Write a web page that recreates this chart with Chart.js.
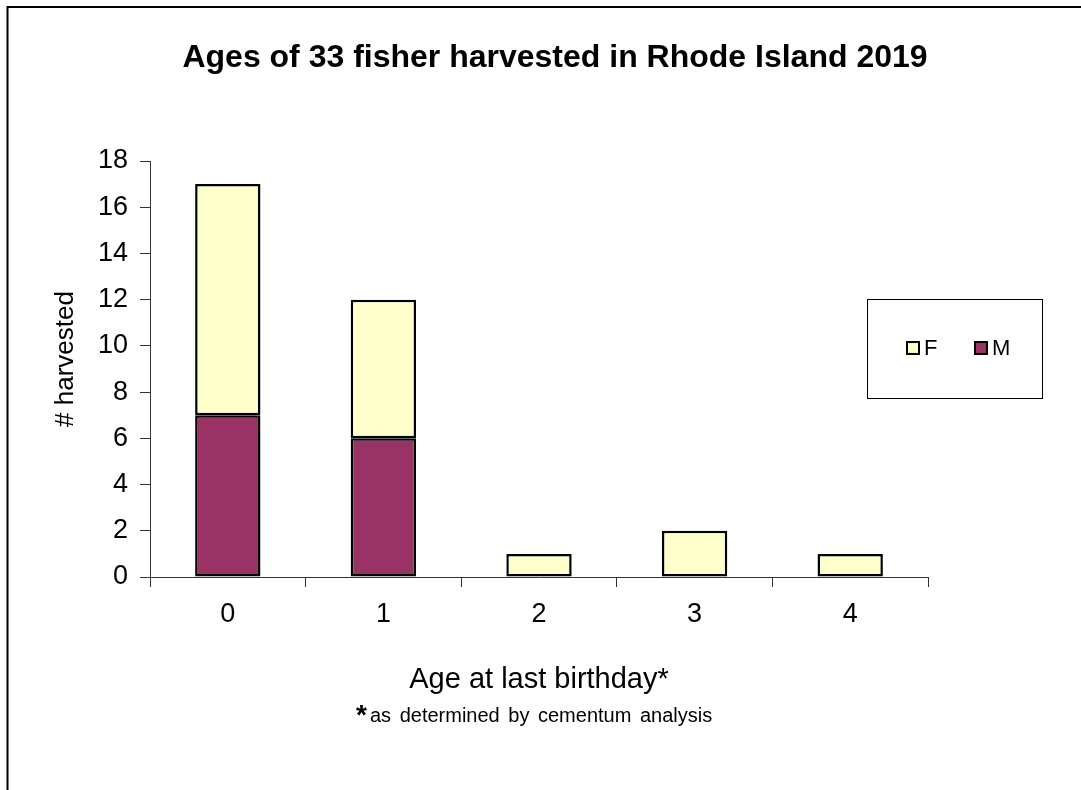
<!DOCTYPE html>
<html>
<head>
<meta charset="utf-8">
<title>Fisher ages</title>
<script src="https://cdn.jsdelivr.net/npm/chart.js@4.4.1/dist/chart.umd.min.js"></script>
<style>
  html, body { margin: 0; padding: 0; background: #fff; }
  canvas { display: block; }
</style>
</head>
<body>
<canvas id="ageChart" width="1081" height="790"></canvas>
<script>
// ages at last birthday and counts per sex
const ages = ['0', '1', '2', '3', '4'];
const males = [7, 6, 0, 0, 0];
const females = [10, 6, 1, 2, 1];
const yTicks = [0, 2, 4, 6, 8, 10, 12, 14, 16, 18];

const colors = {
    female: '#FFFFCC',
    male: '#993366',
    ink: '#000000'
};

const FONT = '"Liberation Sans", Arial, sans-serif';

// frame, titles, footnote and the boxed legend are painted by hand
const decorations = {
    id: 'decorations',
    beforeDraw(chart) {
        const ctx = chart.ctx;
        ctx.save();
        ctx.fillStyle = '#fff';
        ctx.fillRect(0, 0, chart.width, chart.height);
        ctx.restore();
    },
    afterDraw(chart) {
        const { ctx, chartArea } = chart;
        ctx.save();

        // outer frame (only top and left edges fall inside the page)
        ctx.strokeStyle = colors.ink;
        ctx.lineWidth = 2;
        ctx.beginPath();
        ctx.moveTo(7.5, chart.height);
        ctx.lineTo(7.5, 7);
        ctx.lineTo(chart.width, 7);
        ctx.stroke();

        ctx.fillStyle = colors.ink;
        ctx.textAlign = 'center';
        ctx.textBaseline = 'middle';

        ctx.font = 'bold 32px ' + FONT;
        ctx.fillText('Ages of 33 fisher harvested in Rhode Island 2019', 555, 58);

        // y axis title
        ctx.save();
        ctx.translate(66, 359);
        ctx.rotate(-Math.PI / 2);
        ctx.font = '26px ' + FONT;
        ctx.fillText('# harvested', 0, 0);
        ctx.restore();

        // x axis title and footnote
        const cx = (chartArea.left + chartArea.right) / 2;
        ctx.font = '29px ' + FONT;
        ctx.fillText('Age at last birthday*', cx, 680);

        ctx.textAlign = 'left';
        ctx.textBaseline = 'alphabetic';
        ctx.font = 'bold 28px ' + FONT;
        ctx.fillText('*', 356, 724);
        ctx.font = '20px ' + FONT;
        ctx.wordSpacing = '3px';
        ctx.fillText('as determined by cementum analysis', 370, 722);
        ctx.wordSpacing = '0px';

        // legend box
        ctx.fillStyle = '#fff';
        ctx.fillRect(867, 299, 175, 99);
        ctx.lineWidth = 1;
        ctx.strokeStyle = colors.ink;
        ctx.strokeRect(867.5, 299.5, 175, 99);

        const entries = chart.data.datasets.slice().reverse();
        const xs = [907, 975];
        ctx.font = '22px ' + FONT;
        ctx.textBaseline = 'middle';
        entries.forEach((ds, i) => {
            ctx.fillStyle = ds.backgroundColor;
            ctx.fillRect(xs[i], 342, 12, 12);
            ctx.lineWidth = 2;
            ctx.strokeStyle = colors.ink;
            ctx.strokeRect(xs[i], 342, 12, 12);
            ctx.fillStyle = colors.ink;
            ctx.fillText(ds.label, xs[i] + 17, 349);
        });

        ctx.restore();
    }
};

new Chart(document.getElementById('ageChart'), {
    type: 'bar',
    data: {
        labels: ages,
        datasets: [
            {
                label: 'M',
                data: males,
                backgroundColor: colors.male,
                borderColor: colors.ink,
                borderWidth: 2.5,
                borderSkipped: false
            },
            {
                label: 'F',
                data: females,
                backgroundColor: colors.female,
                borderColor: colors.ink,
                borderWidth: 2.5,
                borderSkipped: false
            }
        ]
    },
    options: {
        responsive: false,
        animation: false,
        layout: {
            padding: { top: 161, right: 153, bottom: 0, left: 0 }
        },
        datasets: {
            bar: { categoryPercentage: 1, barPercentage: 0.42 }
        },
        plugins: {
            legend: { display: false },
            title: { display: false },
            tooltip: { enabled: false }
        },
        scales: {
            x: {
                stacked: true,
                grid: {
                    offset: true,
                    drawOnChartArea: false,
                    tickLength: 10,
                    color: '#333'
                },
                border: { color: '#333', width: 1 },
                ticks: {
                    color: colors.ink,
                    padding: 11,
                    font: { family: FONT, size: 27 }
                },
                afterFit(scale) { scale.height = 213; }
            },
            y: {
                stacked: true,
                min: yTicks[0],
                max: yTicks[yTicks.length - 1],
                afterBuildTicks(scale) {
                    scale.ticks = yTicks.map(v => ({ value: v }));
                },
                grid: {
                    drawOnChartArea: false,
                    tickLength: 10,
                    color: '#333'
                },
                border: { color: '#333', width: 1 },
                ticks: {
                    color: colors.ink,
                    padding: 12,
                    font: { family: FONT, size: 27 }
                },
                afterFit(scale) { scale.width = 150; }
            }
        }
    },
    plugins: [decorations]
});
</script>
</body>
</html>
